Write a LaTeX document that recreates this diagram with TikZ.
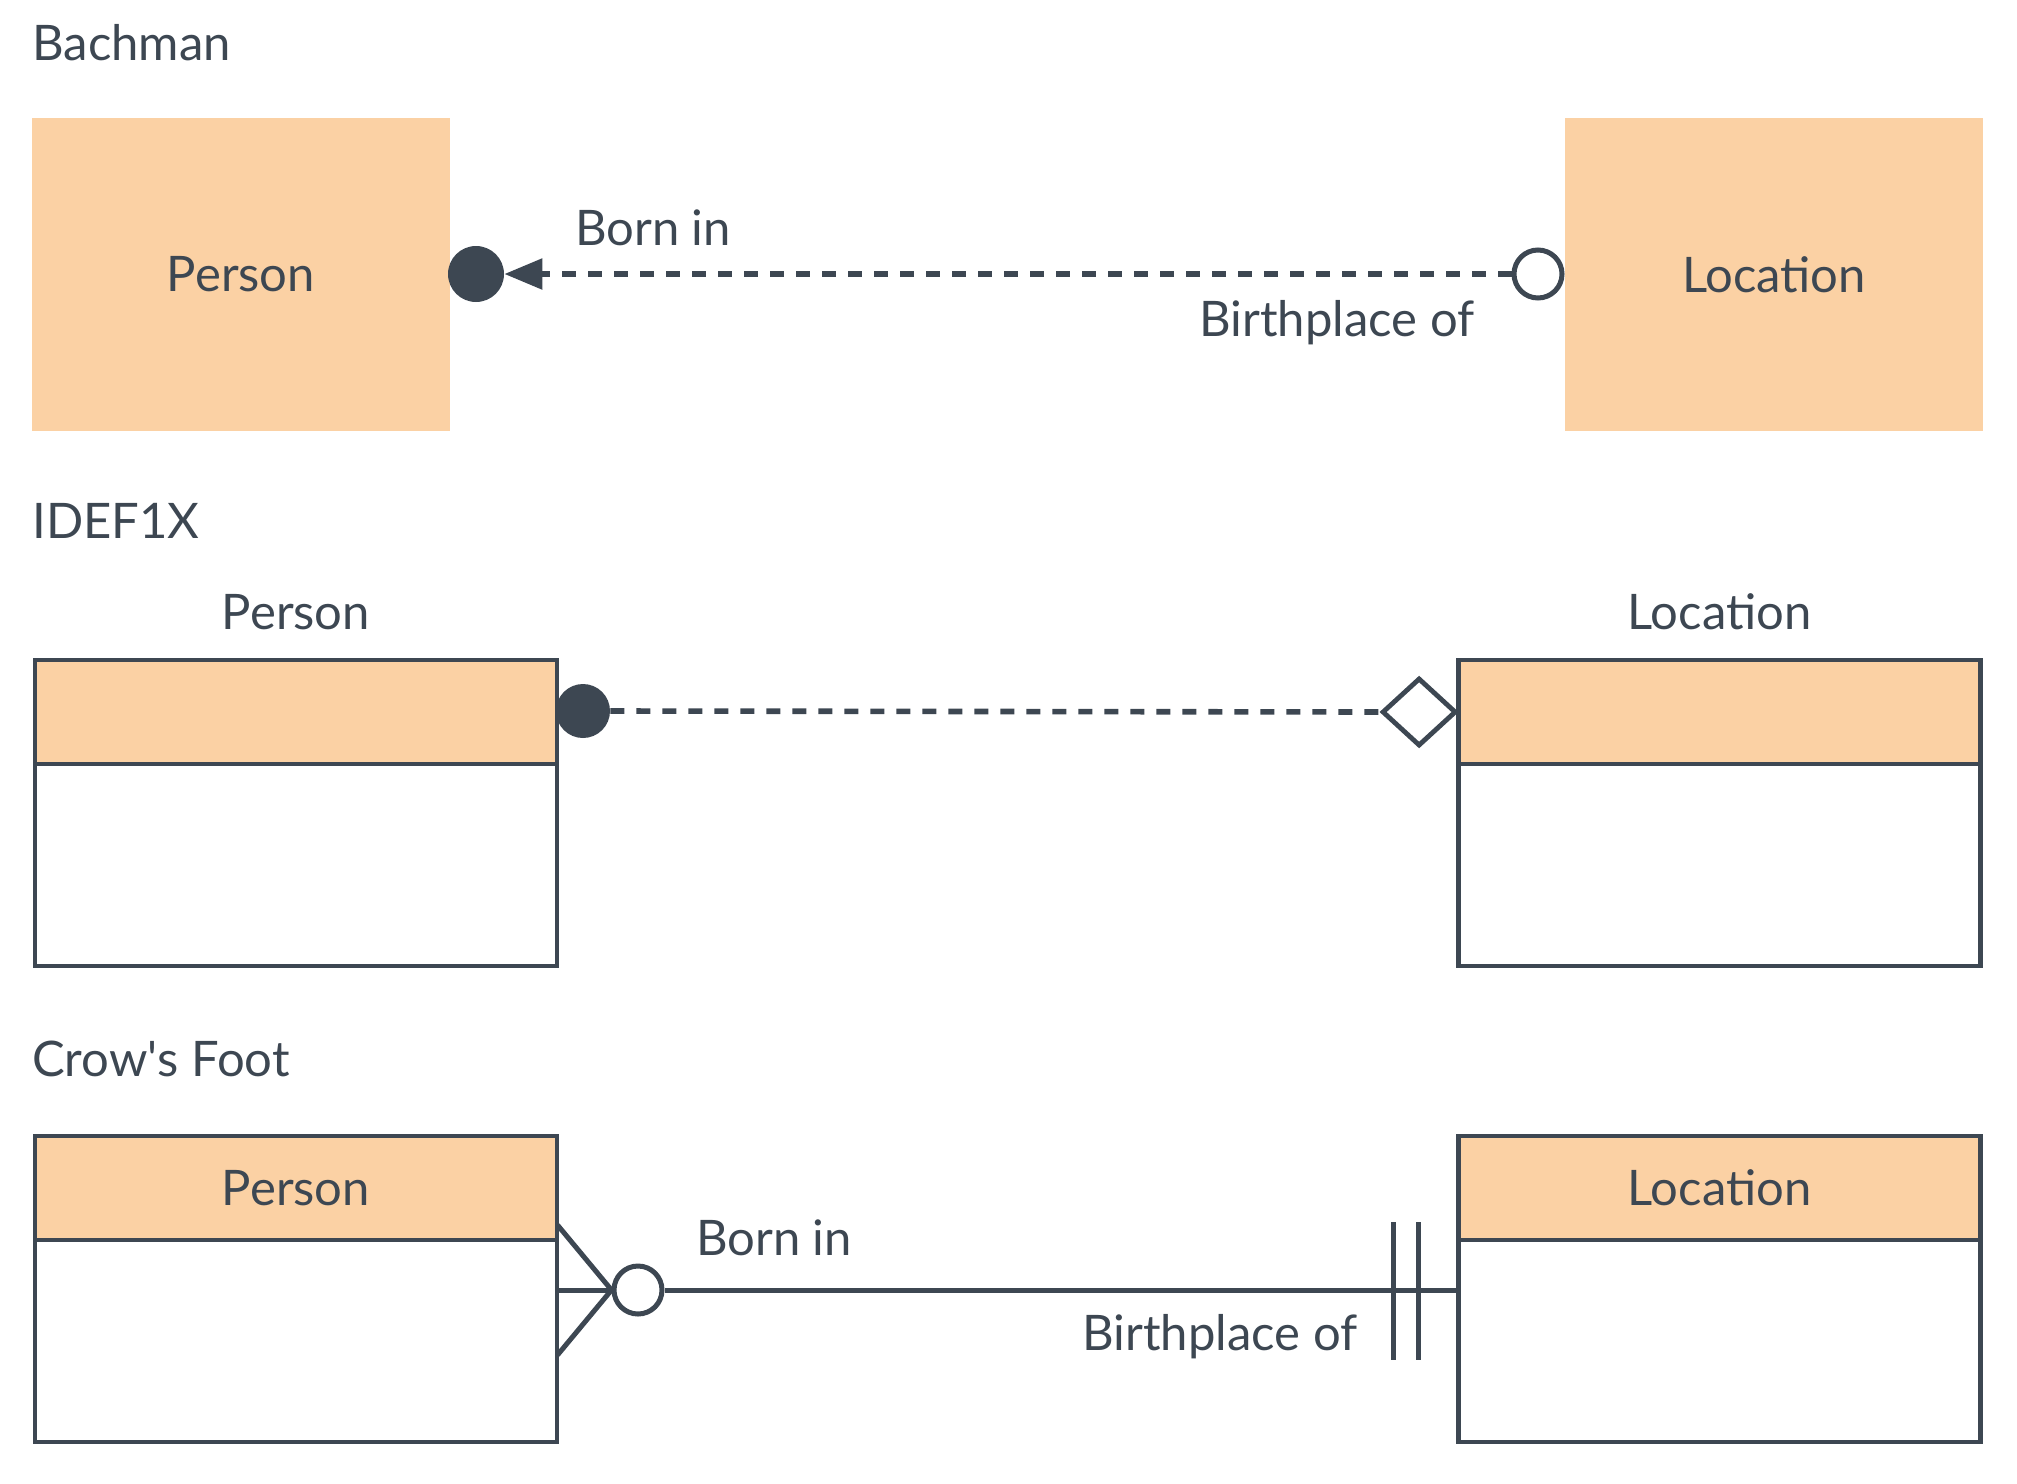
\documentclass[tikz,border=0pt]{standalone}
\usepackage{fontspec}
\setmainfont{Lato}
\usetikzlibrary{arrows.meta}
\usetikzlibrary{calc}
\usetikzlibrary{shapes.geometric}

\definecolor{ink}{HTML}{3D4752}
\definecolor{entity}{HTML}{FBD1A4}

\tikzset{
  txt/.style={inner sep=0pt, text=ink, font=\fontsize{24.5}{28}\selectfont},
  title/.style={txt, anchor=west},
  bbox/.style={rectangle, fill=entity, minimum width=209pt, minimum height=156.5pt, inner sep=0pt, txt},
  hdr/.style={rectangle, draw=ink, line width=2.4pt, fill=entity, minimum width=261pt, minimum height=52pt, inner sep=0pt, outer sep=0pt, txt},
  bdy/.style={rectangle, draw=ink, line width=2.4pt, fill=white, minimum width=261pt, minimum height=101pt, inner sep=0pt, outer sep=0pt},
  dot/.style={circle, fill=ink, inner sep=0pt, minimum size=28pt},
  ring/.style={circle, draw=ink, line width=2.5pt, fill=white, inner sep=0pt, minimum size=24pt},
  link/.style={draw=ink, line width=2.5pt},
  dashlink/.style={link, line width=2.8pt, dash pattern=on 7pt off 6pt}
}

\begin{document}
\begin{tikzpicture}[x=0.5pt, y=-0.5pt]
    \useasboundingbox (0,0) rectangle (2017,1483);

    % Bachman
    \node[title] (tbach) at (32,43) {Bachman};
    \node[bbox] (bperson) at (241,274.5) {Person};
    \node[bbox] (blocation) at (1774,274.5) {Location};
    \node[dot] (bdot) at (476,274) {};
    \node[ring] (bring) at (1538,274) {};
    \draw[dashlink, -{Triangle[length=19pt, width=15pt]}] (bring.west) -- (bdot.east);
    \node[txt] (bborn) at (653,228) {Born in};
    \node[txt] (bbirth) at (1337,323) {Birthplace of};

    % IDEF1X
    \node[title] (tidef) at (32,521) {IDEF1X};
    \node[hdr] (iperson) at (296,712) {};
    \node[bdy, anchor=north] (ipersonb) at (iperson.south) {};
    \node[hdr] (ilocation) at (1719.5,712) {};
    \node[bdy, anchor=north] (ilocationb) at (ilocation.south) {};
    \node[txt] at (296,612) {Person};
    \node[txt] at (1719.5,612) {Location};
    \node[dot, minimum size=27pt] (idot) at (583,711) {};
    \node[diamond, draw=ink, line width=2.4pt, fill=white, inner sep=0pt,
      minimum width=37pt, minimum height=34pt, anchor=east] (idia) at (ilocation.west) {};
    \draw[dashlink] (idot.east) -- (idia.west);

    % Crow's Foot
    \node[title] (tcrow) at (32,1059) {Crow\textquotesingle s Foot};
    \node[hdr] (cperson) at (296,1188) {Person};
    \node[bdy, anchor=north] (cpersonb) at (cperson.south) {};
    \node[hdr] (clocation) at (1719.5,1188) {Location};
    \node[bdy, anchor=north] (clocationb) at (clocation.south) {};
    \node[ring] (cring) at (638,1290) {};
    \coordinate (cfoot) at (cring.west);
    \draw[link] (cpersonb.east |- cring) -- (cfoot);
    \foreach \dy in {-65,65} {
      \draw[link] ($(cfoot)+(-54,\dy)$) -- (cfoot);
    }
    \draw[link] (cring.east) -- (clocationb.west |- cring);
    \foreach \dx in {-65,-40} {
      \draw[link] ($(clocationb.west |- cring)+(\dx,-68)$) -- +(0,138);
    }
    \node[txt] (cborn) at (774,1238) {Born in};
    \node[txt] (cbirth) at (1220,1337) {Birthplace of};
  \end{tikzpicture}
\end{document}
